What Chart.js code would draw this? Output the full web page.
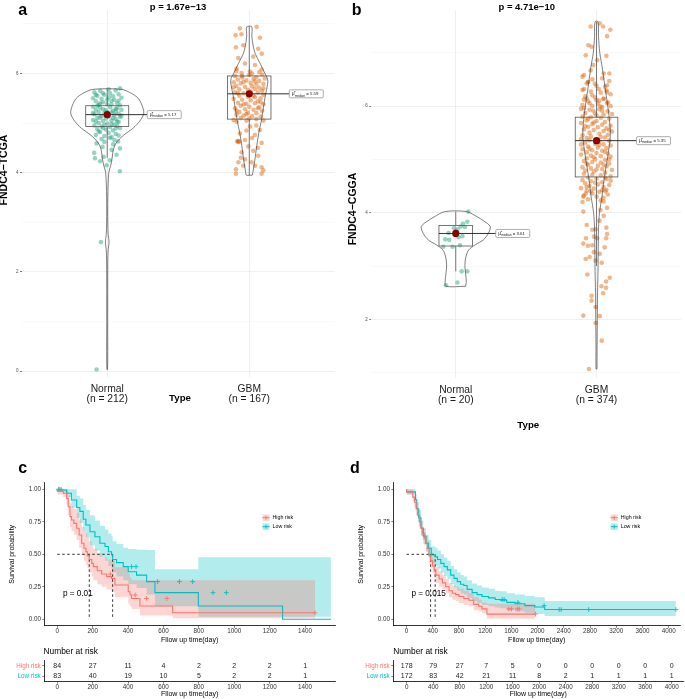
<!DOCTYPE html>
<html><head><meta charset="utf-8">
<script src="https://cdn.jsdelivr.net/npm/chart.js@4.4.1/dist/chart.umd.min.js"></script>
<style>
html,body{margin:0;padding:0;background:#fff;}
#fig{position:relative;width:685px;height:699px;overflow:hidden;background:#fff;}
canvas{position:absolute;}
</style></head><body>
<div id="fig">
<canvas id="cA" width="340" height="420" style="left:0;top:0"></canvas>
<canvas id="cB" width="345" height="432" style="left:340px;top:0"></canvas>
<canvas id="cC" width="340" height="190" style="left:0;top:455px"></canvas>
<canvas id="cD" width="345" height="190" style="left:340px;top:455px"></canvas>
<canvas id="rC" width="340" height="54" style="left:0;top:645px"></canvas>
<canvas id="rD" width="345" height="54" style="left:340px;top:645px"></canvas>
</div>
<script>
// ================= DATA =================
// ---- panel a (TCGA) ----
const catsA = [['Normal','(n = 212)'],['GBM','(n = 167)']];
const pTitleA = 'p = 1.67e−13';
const yTitleA = 'FNDC4−TCGA';
const yTicksA = [0,1,2,3,4,5,6,7];
const aNormalPts = [[-0.09,5.62],[-0.05,5.65],[0.02,5.6],[0.06,5.66],[0.09,5.7],[-0.07,5.55],[-0.02,5.57],[0.04,5.54],[0.08,5.58],[-0.1,5.5],[-0.04,5.49],[0.01,5.52],[0.05,5.47],[0.1,5.51],[-0.08,5.44],[-0.03,5.42],[0.03,5.45],[0.07,5.4],[-0.06,5.37],[0,5.38],[0.09,5.36],[-0.1,5.33],[-0.05,5.31],[0.02,5.32],[0.06,5.29],[-0.08,5.27],[-0.01,5.26],[0.04,5.25],[0.1,5.27],[-0.06,5.22],[-0.02,5.2],[0.03,5.21],[0.08,5.19],[-0.09,5.18],[0.05,5.16],[-0.04,5.14],[0.01,5.13],[0.09,5.12],[-0.07,5.1],[-0.01,5.09],[0.06,5.08],[-0.1,5.06],[-0.03,5.04],[0.03,5.05],[0.08,5.02],[-0.06,5.0],[0,4.99],[0.05,4.97],[-0.09,4.95],[-0.04,4.93],[0.02,4.92],[0.07,4.94],[-0.07,4.88],[-0.01,4.87],[0.04,4.85],[0.09,4.9],[-0.05,4.82],[0.01,4.8],[0.06,4.78],[-0.08,4.76],[-0.02,4.74],[0.03,4.72],[0.08,4.75],[-0.04,4.68],[0.05,4.66],[-0.03,5.6],[0.0,5.47],[-0.07,5.35],[0.07,5.3],[-0.03,5.28],[0.0,5.22],[-0.05,5.11],[0.04,5.1],[0.07,5.03],[-0.08,5.03],[0.03,4.98],[-0.02,4.96],[0.1,5.15],[-0.1,5.2],[0.06,5.23],[-0.05,5.4],[0.03,5.38],[0.08,5.45],[-0.08,5.57],[0.01,5.68],[-0.03,4.9],[0.06,4.89],[-0.06,4.83],[0.02,4.7],[-0.02,4.62],
 [-0.075,0.03],[-0.044,2.6],[0.089,4.03],[-0.092,4.40],[-0.05,4.23],[-0.086,4.29],[-0.025,4.32],[0.031,4.46],[0.066,4.36],[0.09,4.49],[0.077,4.63],[-0.004,4.15],[0.019,4.25],[-0.033,4.52],[-0.075,4.59],[0.042,4.57]];
const aGbmPts = [[-0.066,6.91],[0.052,6.94],[-0.096,6.77],[-0.055,6.79],[0.075,6.72],[-0.094,6.53],[-0.042,6.57],[0.063,6.5],[0.088,6.4],[0.028,6.34],[-0.077,6.31],[-0.03,6.2],[0.04,6.17],[-0.089,6.1],[0.087,6.08],[0.005,6.04],[-0.054,6.01],
 [-0.1,5.95],[-0.05,5.92],[0.0,5.97],[0.05,5.93],[0.09,5.98],[-0.08,5.88],[-0.02,5.86],[0.03,5.89],[0.07,5.85],[0.11,5.9],[-0.11,5.82],[-0.06,5.8],[0.01,5.81],[0.05,5.78],[0.1,5.79],[-0.09,5.75],[-0.03,5.73],[0.02,5.74],[0.07,5.71],[-0.07,5.68],[-0.01,5.67],[0.04,5.69],[0.09,5.65],[-0.1,5.62],[-0.04,5.6],[0.06,5.62],[0.1,5.57],[-0.07,5.55],[-0.01,5.53],[0.03,5.55],[0.08,5.5],[-0.11,5.49],[-0.05,5.47],[0.01,5.46],[0.06,5.44],[-0.08,5.41],[-0.02,5.39],[0.04,5.4],[0.1,5.38],[-0.06,5.35],[0.0,5.33],[0.07,5.32],[-0.1,5.3],[-0.03,5.28],[0.03,5.27],[0.09,5.25],[-0.07,5.22],[-0.01,5.21],[0.05,5.2],[-0.09,5.17],[-0.04,5.15],[0.02,5.14],[0.08,5.13],[-0.06,5.1],[0.0,5.09],[0.05,5.08],[-0.02,5.05],[0.1,5.05],[-0.11,5.06],[-0.04,5.83],[0.04,5.84],[-0.08,5.6],[0.01,5.64],[0.04,5.52],[-0.04,5.38],[0.08,5.42],[-0.09,5.25],[0.06,5.3],[-0.05,5.95],[0.02,6.0],[-0.09,6.05],[0.07,6.03],[-0.02,5.18],[0.1,5.7],[-0.11,5.72],
 [-0.089,5.03],[0.005,4.93],[0.075,4.86],[-0.066,4.79],[0.04,4.76],[-0.03,4.66],[-0.085,4.63],[-0.07,4.63],[0.087,4.6],[-0.007,4.53],[0.028,4.44],[-0.054,4.41],[0.063,4.34],[-0.03,4.27],[-0.077,4.21],[0.016,4.21],[-0.042,4.14],[-0.094,4.07],[0.04,4.14],[0.087,4.11],[0.099,4.05],[-0.094,3.98],[0.087,3.98],[-0.08,4.64],[-0.075,4.62],[0.05,4.95],[-0.02,4.85],[0.02,4.7],[0.06,4.5],[-0.06,4.3]];
const aViolinNormalY = [0.03,0.2,1.0,2.2,2.45,2.6,2.75,3.0,3.5,4.0,4.15,4.3,4.45,4.6,4.75,4.9,5.05,5.2,5.35,5.5,5.6,5.68];
const aViolinNormalW = [0.002,0.0035,0.0035,0.004,0.007,0.013,0.007,0.004,0.004,0.011,0.025,0.035,0.042,0.063,0.113,0.183,0.232,0.257,0.246,0.218,0.17,0.1];
const aViolinGbmY = [3.95,4.0,4.25,4.55,4.8,5.05,5.3,5.55,5.8,5.9,6.0,6.2,6.4,6.55,6.75,6.94];
const aViolinGbmW = [0.021,0.025,0.039,0.053,0.067,0.085,0.099,0.113,0.13,0.128,0.11,0.077,0.042,0.028,0.018,0.018];
const aQ1 = [4.93,5.08], aMed = [5.17,5.59], aQ3 = [5.35,5.95], aWLo = [4.3,3.95], aWHi = [5.68,6.95];

// ---- panel b (CGGA) ----
const catsB = [['Normal','(n = 20)'],['GBM','(n = 374)']];
const pTitleB = 'p = 4.71e−10';
const yTitleB = 'FNDC4−CGGA';
const yTicksB = [1,2,3,4,5,6,7];
const bNormalPts = [[0.089,4.02],[0.082,3.83],[0.051,3.79],[0.065,3.73],[0.035,3.74],[0.012,3.69],[-0.012,3.71],[0.047,3.56],[0.019,3.54],[-0.051,3.62],[-0.075,3.5],[-0.089,3.36],[-0.023,3.36],[0.03,3.39],[0.042,2.9],[0.082,2.9],[0.012,2.69],[-0.07,2.64],[-0.047,3.49],[0,3.65]];
const bGbmPts = [[-0.042,7.49],[0.047,7.49],[0.023,7.55],[0.098,7.43],[0.075,7.31],[-0.058,7.14],[-0.035,7.11],[0.07,6.94],[0.005,6.86],[-0.077,6.95],[-0.023,6.77],[-0.042,6.67],[-0.089,6.58],[0.051,6.61],[0.091,6.61],[-0.061,6.45],[0.075,6.39],[-0.012,6.42],[-0.089,6.32],[0.016,6.32],[0.075,6.26],[-0.03,6.2],[-0.07,6.14],[0.051,6.14],[0,6.11],[-0.049,6.05],[0.075,6.05],[-0.089,5.96],[0.028,5.99],[-0.023,5.91],
 [-0.1,6.55],[-0.03,6.5],[0.04,6.52],[0.09,6.47],[-0.07,6.42],[0.0,6.38],[0.06,6.36],[-0.1,6.3],[-0.04,6.27],[0.03,6.25],[0.1,6.22],[-0.08,6.18],[-0.01,6.16],[0.05,6.13],[-0.06,6.09],[0.08,6.07],[0.01,6.04],[-0.1,6.02],[-0.03,6.0],[0.04,5.98],[0.1,6.0],[-0.06,6.45],[0.07,6.29],[-0.09,6.12],[0.02,6.1],
 [-0.11,5.95],[-0.05,5.93],[0.02,5.94],[0.08,5.9],[-0.08,5.87],[-0.01,5.86],[0.05,5.84],[0.11,5.85],[-0.1,5.8],[-0.04,5.79],[0.03,5.78],[0.09,5.76],[-0.07,5.73],[0.0,5.72],[0.06,5.7],[-0.11,5.68],[-0.03,5.66],[0.04,5.65],[0.1,5.63],[-0.06,5.61],[0.01,5.6],[0.07,5.58],[-0.09,5.56],[-0.02,5.55],[0.05,5.53],[0.11,5.52],[-0.05,5.5],[0.02,5.48],[0.08,5.46],[-0.1,5.45],[-0.04,5.43],[0.03,5.42],[-0.07,5.4],[0.06,5.41],[0.0,5.82],[-0.02,5.69],[0.09,5.55],[-0.08,5.62],[0.04,5.91],[-0.06,5.76],
 [-0.11,5.38],[-0.05,5.36],[0.02,5.33],[0.09,5.35],[-0.08,5.31],[-0.01,5.29],[0.05,5.28],[0.1,5.26],[-0.06,5.24],[0.01,5.22],[0.07,5.21],[-0.1,5.19],[-0.03,5.17],[0.04,5.16],[-0.07,5.13],[0.0,5.12],[0.08,5.11],[-0.11,5.09],[-0.04,5.07],[0.03,5.06],[0.1,5.05],[-0.07,5.02],[-0.01,5.0],[0.06,4.99],[-0.09,4.97],[-0.03,4.95],[0.03,4.94],[0.09,4.92],[-0.06,4.9],[0.01,4.88],[0.07,4.87],[-0.1,4.85],[-0.04,4.83],[0.04,4.82],[0.11,4.8],[-0.08,4.79],[0.02,5.27],[-0.05,5.2],[0.06,5.14],[-0.02,5.04],[0.09,5.0],[-0.07,4.92],[0.05,4.9],[0.0,4.81],[-0.11,5.28],
 [-0.02,4.77],[0.06,4.75],[-0.09,4.73],[-0.03,4.71],[0.03,4.7],[0.1,4.68],[-0.06,4.66],[0.0,4.64],[0.07,4.63],[-0.1,4.61],[-0.04,4.59],[0.04,4.57],[-0.08,4.55],[0.01,4.53],[0.09,4.52],[-0.05,4.5],[0.05,4.48],[-0.11,4.46],[-0.02,4.45],[0.07,4.43],[-0.07,4.41],[0.02,4.39],[-0.03,4.36],[0.08,4.34],[-0.09,4.32],[0.0,4.3],[0.05,4.28],[-0.06,4.25],[0.03,4.23],[-0.1,4.2],[0.1,4.6],[-0.01,4.56],[0.06,4.66],[-0.07,4.48],[0.04,4.42],
 [-0.094,4.30],[-0.077,4.36],[-0.042,4.40],[0.063,4.40],[0.051,4.21],[0.075,4.09],[0.028,4.05],[-0.094,4.02],[0.051,3.94],[0.021,3.85],[-0.07,3.77],[-0.03,3.68],[-0.007,3.69],[0.07,3.72],[0.075,3.6],[-0.075,3.52],[0.005,3.52],[0.068,3.52],[-0.019,3.55],[-0.094,3.42],[-0.061,3.38],[-0.03,3.39],[0.058,3.35],[-0.019,3.26],[0.023,3.23],[-0.077,3.13],[-0.049,3.17],[0.037,3.06],[-0.007,3.1],[-0.065,2.84],[0.094,2.78],[0.068,2.71],[0.035,2.62],[0.068,2.59],[0.047,2.49],[-0.035,2.44],[-0.035,2.35],[-0.007,2.23],[-0.094,2.07],[0.023,2.06],[-0.007,1.93],[0.037,1.6],[-0.054,1.07]];
const bViolinNormalY = [2.62,2.72,2.85,3.0,3.15,3.3,3.4,3.49,3.61,3.74,3.85,3.92,4.02];
const bViolinNormalW = [0.07,0.075,0.07,0.065,0.07,0.091,0.14,0.196,0.231,0.245,0.196,0.154,0.077];
const bViolinGbmY = [1.07,1.5,2.0,2.5,2.9,3.3,3.7,4.0,4.3,4.6,4.9,5.2,5.45,5.75,6.05,6.35,6.7,7.0,7.3,7.58];
const bViolinGbmW = [0.0035,0.004,0.0056,0.007,0.0105,0.012,0.014,0.021,0.0386,0.0526,0.07,0.0877,0.098,0.091,0.077,0.06,0.042,0.023,0.014,0.0105];
const bQ1 = [3.375,4.67], bMed = [3.61,5.35], bQ3 = [3.76,5.79], bWLo = [2.9,3.0], bWHi = [4.02,7.58];

// ---- survival (shared) ----
const seriesNames = ['High risk','Low risk'];
const survTicks = [0,0.25,0.5,0.75,1];
// ---- panel c ----
const kmTicksC = [0,200,400,600,800,1000,1200,1400];
const highC_t  = [0,34,53,62,72,81,94,110,124,138,151,162,170,181,195,204,226,251,279,307,326,401,411,420,467,652,1273,1456];
const highC_s  = [1,0.985,0.97,0.93,0.866,0.79,0.764,0.738,0.70,0.648,0.585,0.546,0.52,0.49,0.46,0.43,0.405,0.374,0.348,0.328,0.315,0.264,0.212,0.187,0.16,0.102,0.05,0.05];
const highC_up = [1,1,1,1,0.95,0.89,0.87,0.85,0.82,0.77,0.71,0.68,0.66,0.63,0.60,0.57,0.54,0.51,0.48,0.46,0.45,0.40,0.35,0.32,0.30,0.30,0.30,0.30];
const highC_lo = [1,0.96,0.94,0.88,0.80,0.71,0.68,0.65,0.61,0.55,0.49,0.45,0.42,0.39,0.36,0.33,0.30,0.27,0.25,0.23,0.21,0.17,0.12,0.10,0.08,0.03,0.008,0.008];
const lowC_t  = [0,53,80,110,128,147,162,185,213,241,270,289,307,313,335,373,401,448,505,552,797,1273,1546];
const lowC_s  = [1,0.995,0.97,0.918,0.86,0.83,0.77,0.725,0.674,0.635,0.585,0.56,0.52,0.495,0.46,0.436,0.405,0.366,0.34,0.29,0.205,0.102,0];
const lowC_up = [1,1,1,1,0.95,0.93,0.88,0.84,0.80,0.76,0.72,0.69,0.66,0.64,0.60,0.58,0.55,0.54,0.535,0.533,0.385,0.477,0.477];
const lowC_lo = [1,0.98,0.94,0.86,0.78,0.74,0.68,0.63,0.57,0.53,0.48,0.45,0.41,0.39,0.36,0.33,0.30,0.27,0.24,0.19,0.10,0.02,0.02];
const censHighC = [12,300,440,505,620,1456];
const censLowC  = [8,22,420,445,567,690,765,880,955];
const pTextC = 'p = 0.01';
const riskTimesC = [0,200,400,600,800,1000,1200,1400];
const riskHighC = [84,27,11,4,2,2,2,1];
const riskLowC  = [83,40,19,10,5,2,2,1];
// ---- panel d ----
const kmTicksD = [0,400,800,1200,1600,2000,2400,2800,3200,3600,4000];
const highD_t  = [0,95,121,146,171,196,221,246,271,297,322,345,367,397,422,447,498,548,598,649,699,749,800,875,951,1026,1102,1152,1227,1866,1967];
const highD_s  = [1,0.98,0.94,0.90,0.85,0.80,0.75,0.70,0.66,0.62,0.585,0.545,0.49,0.45,0.41,0.38,0.34,0.31,0.28,0.25,0.22,0.20,0.19,0.175,0.16,0.146,0.115,0.10,0.08,0.04,0.04];
const highD_up = [1,1,0.97,0.94,0.90,0.85,0.80,0.75,0.71,0.67,0.64,0.60,0.55,0.51,0.47,0.44,0.40,0.37,0.34,0.31,0.28,0.26,0.25,0.235,0.22,0.20,0.17,0.15,0.13,0.12,0.12];
const highD_lo = [1,0.96,0.91,0.86,0.80,0.75,0.70,0.65,0.61,0.57,0.53,0.49,0.43,0.39,0.35,0.32,0.28,0.25,0.23,0.20,0.17,0.15,0.14,0.125,0.11,0.10,0.07,0.06,0.045,0.005,0.005];
const lowD_t  = [0,136,156,186,221,256,297,337,377,437,473,523,573,623,674,724,774,825,875,925,1001,1076,1152,1252,1353,1429,1529,1655,1806,1957,2108,2233,4110];
const lowD_s  = [1,0.98,0.92,0.85,0.78,0.70,0.64,0.585,0.546,0.495,0.48,0.46,0.43,0.405,0.38,0.34,0.315,0.29,0.27,0.26,0.23,0.205,0.19,0.175,0.165,0.152,0.146,0.13,0.12,0.105,0.095,0.075,0.075];
const lowD_up = [1,1,0.96,0.90,0.84,0.76,0.70,0.65,0.61,0.56,0.55,0.53,0.50,0.475,0.45,0.41,0.385,0.36,0.34,0.33,0.30,0.275,0.26,0.245,0.235,0.22,0.215,0.2,0.19,0.18,0.17,0.14,0.14];
const lowD_lo = [1,0.96,0.88,0.80,0.72,0.64,0.58,0.52,0.48,0.43,0.41,0.39,0.36,0.335,0.31,0.27,0.245,0.22,0.20,0.19,0.165,0.14,0.125,0.11,0.10,0.09,0.085,0.07,0.06,0.05,0.04,0.025,0.025];
const censHighD = [1560,1600,1690,1720,1967];
const censLowD  = [1460,1490,1700,2100,2330,2360,2780,4110];
const pTextD = 'p = 0.015';
const riskTimesD = [0,400,800,1200,1600,2000,2400,2800,3200,3600,4000];
const riskHighD = [178,79,27,7,5,0,0,0,0,0,0];
const riskLowD  = [172,83,42,21,11,8,2,1,1,1,1];

// ================= STYLE / HELPERS =================
const FONT = '"Liberation Sans", Arial, Helvetica, sans-serif';
Chart.defaults.font.family = FONT;
Chart.defaults.color = '#333';
const RED = '#F8766D', TEAL = '#00BFC4';
const RED_BAND = 'rgba(248,118,109,0.30)', TEAL_BAND = 'rgba(0,191,196,0.30)';
const PT_TEAL = 'rgba(27,158,119,0.45)', PT_ORANGE = 'rgba(217,95,2,0.45)';

function textPlugin(items){
  return {id:'txt', afterDraw(chart){
    const c = chart.ctx;
    items.forEach(it=>{
      c.save(); c.font = it.f; c.fillStyle = it.c || '#000';
      c.textAlign = it.a || 'center'; c.textBaseline = it.b || 'alphabetic';
      c.translate(it.x, it.y); if (it.r) c.rotate(it.r);
      c.fillText(it.t, 0, 0); c.restore();
    });
  }};
}
function violinPoly(c, ys, ws){
  const r = [];
  for (let i=0;i<ys.length;i++) r.push({x:c+ws[i], y:ys[i]});
  for (let i=ys.length-1;i>=0;i--) r.push({x:c-ws[i], y:ys[i]});
  r.push(r[0]);
  return r;
}
function boxPlugin(g){
  return {id:'boxes', afterDatasetDraw(chart, args){
    if (args.index !== 1) return;
    const ctx = chart.ctx, xs = chart.scales.x, ys = chart.scales.y;
    for (let i=0;i<g.med.length;i++){
      const cx = xs.getPixelForValue(i+1), hw = g.halfW[i];
      const y1 = ys.getPixelForValue(g.q1[i]), y3 = ys.getPixelForValue(g.q3[i]);
      const ym = ys.getPixelForValue(g.med[i]);
      const yl = ys.getPixelForValue(g.lo[i]), yh = ys.getPixelForValue(g.hi[i]);
      ctx.save();
      ctx.strokeStyle = '#555'; ctx.lineWidth = 0.8;
      ctx.strokeRect(cx-hw, y3, 2*hw, y1-y3);
      ctx.beginPath(); ctx.moveTo(cx,y3); ctx.lineTo(cx,yh); ctx.moveTo(cx,y1); ctx.lineTo(cx,yl); ctx.stroke();
      const lx = cx + 40, lw = 34, lh = 8;
      ctx.strokeStyle = '#1a1a1a'; ctx.lineWidth = 0.9;
      ctx.beginPath(); ctx.moveTo(cx-hw, ym); ctx.lineTo(lx, ym); ctx.stroke();
      // label box
      ctx.fillStyle = '#fff'; ctx.strokeStyle = '#777'; ctx.lineWidth = 0.6;
      ctx.beginPath(); ctx.roundRect(lx, ym-lh/2, lw, lh, 1.2); ctx.fill(); ctx.stroke();
      ctx.fillStyle = '#222'; ctx.textBaseline = 'alphabetic'; ctx.textAlign = 'left';
      let x = lx + 2.5; const base = ym + 1.6;
      ctx.font = '5px ' + FONT; ctx.fillText('μ̂', x, base); x += ctx.measureText('μ').width;
      ctx.font = '3.2px ' + FONT; ctx.fillText('median', x, base + 1.2); x += ctx.measureText('median').width;
      ctx.font = '4.3px ' + FONT; ctx.fillText(' = ' + g.med[i].toFixed(2), x, base);
      ctx.restore();
    }
  }};
}
function violinChart(id, o){
  const ds = [
    {data: o.med.map((m,i)=>({x:i+1, y:m})), pointRadius:3.6, backgroundColor:'#8B0000', borderWidth:0, showLine:false},
    {data: violinPoly(1, o.v1y, o.v1w), showLine:true, pointRadius:0, borderColor:'#2b2b2b', borderWidth:0.6, tension:0.3, fill:false},
    {data: violinPoly(2, o.v2y, o.v2w), showLine:true, pointRadius:0, borderColor:'#2b2b2b', borderWidth:0.6, tension:0.3, fill:false},
    {data: o.p1.map(p=>({x:1+p[0], y:p[1]})), pointRadius:2.3, backgroundColor:PT_TEAL, borderWidth:0},
    {data: o.p2.map(p=>({x:2+p[0], y:p[1]})), pointRadius:2.3, backgroundColor:PT_ORANGE, borderWidth:0}
  ];
  return new Chart(document.getElementById(id), {
    type:'scatter',
    data:{datasets:ds},
    options:{
      responsive:false, animation:false, events:[], devicePixelRatio:1,
      layout:{padding:{left:0, top:o.area.top, right:o.W-o.area.right, bottom:0}},
      plugins:{legend:{display:false}, tooltip:{enabled:false}},
      scales:{
        x:{type:'linear', min:0.4, max:2.6,
          afterBuildTicks:s=>{s.ticks=[{value:1},{value:2}];},
          ticks:{callback:(v,i)=>o.cats[i], font:{size:10.3, lineHeight:1}, color:'#1a1a1a', padding:6.9, maxRotation:0, autoSkip:false},
          grid:{color:'#ebebeb', lineWidth:0.8, drawTicks:false},
          border:{display:false},
          afterFit:s=>{s.height=o.H-o.area.bottom; s.paddingLeft=0; s.paddingRight=0;}},
        y:{type:'linear', min:o.yMin, max:o.yMax,
          afterBuildTicks:s=>{s.ticks=o.yTicks.map(v=>({value:v}));},
          ticks:{callback:v=>(v%2===0?String(v):''), font:{size:4.5}, color:'#4d4d4d', padding:1.6},
          grid:{color:c=>(c.tick && c.tick.value%2===0?'#ebebeb':'#f3f3f3'),
                lineWidth:c=>(c.tick && c.tick.value%2===0?0.8:0.5),
                tickLength:2, tickColor:c=>(c.tick && c.tick.value%2===0?'#555':'rgba(0,0,0,0)')},
          border:{display:false},
          afterFit:s=>{s.width=o.area.left; s.paddingTop=0; s.paddingBottom=0;}}
      }
    },
    plugins:[boxPlugin({q1:o.q1, med:o.med, q3:o.q3, lo:o.lo, hi:o.hi, halfW:o.halfW}), textPlugin(o.texts)]
  });
}

function stepAt(ts, ss, t){ let v = ss[0]; for (let i=0;i<ts.length;i++){ if (ts[i] <= t) v = ss[i]; } return v; }
function medianOf(ts, ss){ for (let i=0;i<ts.length;i++){ if (ss[i] <= 0.5) return ts[i]; } return null; }
const P = (t,s)=>t.map((v,i)=>({x:v, y:s[i]}));

function kmChart(id, o){
  const mH = medianOf(o.hT, o.hS), mL = medianOf(o.lT, o.lS), mMax = Math.max(mH, mL);
  const line = (data, col)=>({data, borderColor:col, borderWidth:1.1, stepped:'after', pointRadius:0, fill:false});
  const dash = data=>({data, borderColor:'#000', borderWidth:0.8, borderDash:[2.5,2.5], pointRadius:0, fill:false});
  const band = (data, fillCol)=>({data, borderColor:'rgba(0,0,0,0)', borderWidth:0, stepped:'after', pointRadius:0, fill: fillCol ? '-1' : false, backgroundColor: fillCol || 'rgba(0,0,0,0)'});
  const ds = [
    line(P(o.hT,o.hS), RED),
    line(P(o.lT,o.lS), TEAL),
    {data:o.cH.map(t=>({x:t, y:stepAt(o.hT,o.hS,t)})), showLine:false, pointStyle:'cross', pointRadius:2.4, borderColor:RED, borderWidth:0.9},
    {data:o.cL.map(t=>({x:t, y:stepAt(o.lT,o.lS,t)})), showLine:false, pointStyle:'cross', pointRadius:2.4, borderColor:TEAL, borderWidth:0.9},
    dash([{x:0,y:0.5},{x:mMax,y:0.5}]),
    dash([{x:mH,y:0.5},{x:mH,y:0}]),
    dash([{x:mL,y:0.5},{x:mL,y:0}]),
    band(P(o.hT,o.hU), null),
    band(P(o.hT,o.hL), RED_BAND),
    band(P(o.lT,o.lU), null),
    band(P(o.lT,o.lL), TEAL_BAND)
  ];
  const legend = {id:'kmleg', afterDraw(chart){
    const c = chart.ctx;
    [[seriesNames[0], RED, RED_BAND],[seriesNames[1], TEAL, TEAL_BAND]].forEach((it,i)=>{
      const y = o.legY + i*9, x = o.legX;
      c.save();
      c.fillStyle = it[2]; c.fillRect(x, y-3.2, 7, 6.4);
      c.strokeStyle = it[1]; c.lineWidth = 1;
      c.beginPath(); c.moveTo(x, y); c.lineTo(x+7, y); c.moveTo(x+3.5, y-2); c.lineTo(x+3.5, y+2); c.stroke();
      c.fillStyle = '#000'; c.font = '5.3px ' + FONT; c.textAlign = 'left'; c.textBaseline = 'middle';
      c.fillText(it[0], x+10, y);
      c.restore();
    });
    // p-value, placed in data space
    c.save(); c.font = '8.2px ' + FONT; c.fillStyle = '#000'; c.textAlign = 'left'; c.textBaseline = 'middle';
    c.fillText(o.pText, chart.scales.x.getPixelForValue(o.pT), chart.scales.y.getPixelForValue(0.195));
    c.restore();
  }};
  return new Chart(document.getElementById(id), {
    type:'line',
    data:{datasets:ds},
    options:{
      responsive:false, animation:false, events:[], devicePixelRatio:1,
      layout:{padding:{left:0, top:o.area.top, right:o.W-o.area.right, bottom:0}},
      plugins:{legend:{display:false}, tooltip:{enabled:false}},
      scales:{
        x:{type:'linear', min:o.xMin, max:o.xMax,
          afterBuildTicks:s=>{s.ticks=o.xTicks.map(v=>({value:v}));},
          ticks:{callback:v=>String(v), font:{size:6.3, lineHeight:1}, color:'#333', padding:0, maxRotation:0, autoSkip:false},
          grid:{drawOnChartArea:false, tickLength:2, tickColor:'#333', lineWidth:0.6},
          border:{display:true, color:'#000', width:0.8},
          title:{display:true, text:'Fllow up time(day)', font:{size:7}, color:'#000', padding:{top:0, bottom:0.8}},
          afterFit:s=>{s.height=o.H-o.area.bottom; s.paddingLeft=0; s.paddingRight=0;}},
        y:{type:'linear', min:-0.05, max:1.05,
          afterBuildTicks:s=>{s.ticks=survTicks.map(v=>({value:v}));},
          ticks:{callback:v=>v.toFixed(2), font:{size:6.3}, color:'#333', padding:1.3},
          grid:{drawOnChartArea:false, tickLength:2, tickColor:'#333', lineWidth:0.6},
          border:{display:true, color:'#000', width:0.8},
          title:{display:true, text:'Survival probability', font:{size:7}, color:'#000', padding:{top:o.yTitlePad, bottom:0}},
          afterFit:s=>{s.width=o.area.left; s.paddingTop=0; s.paddingBottom=0;}}
      }
    },
    plugins:[legend, textPlugin(o.texts)]
  });
}

function riskChart(id, o){
  const ds = [
    {data:o.times.map(t=>({x:t, y:seriesNames[0]})), counts:o.high, pointRadius:0},
    {data:o.times.map(t=>({x:t, y:seriesNames[1]})), counts:o.low, pointRadius:0}
  ];
  const numbers = {id:'riskNums', afterDatasetsDraw(chart){
    const c = chart.ctx;
    chart.data.datasets.forEach((d,i)=>{
      chart.getDatasetMeta(i).data.forEach((el,j)=>{
        c.save(); c.font = '7px ' + FONT; c.fillStyle = '#222'; c.textAlign = 'center'; c.textBaseline = 'middle';
        c.fillText(String(d.counts[j]), el.x, el.y); c.restore();
      });
    });
  }};
  return new Chart(document.getElementById(id), {
    type:'scatter',
    data:{datasets:ds},
    options:{
      responsive:false, animation:false, events:[], devicePixelRatio:1,
      layout:{padding:{left:0, top:o.area.top, right:o.W-o.area.right, bottom:0}},
      plugins:{legend:{display:false}, tooltip:{enabled:false}},
      scales:{
        x:{type:'linear', min:o.xMin, max:o.xMax,
          afterBuildTicks:s=>{s.ticks=o.xTicks.map(v=>({value:v}));},
          ticks:{callback:v=>String(v), font:{size:6.3, lineHeight:1}, color:'#333', padding:0, maxRotation:0, autoSkip:false},
          grid:{drawOnChartArea:false, tickLength:2, tickColor:'#333', lineWidth:0.6},
          border:{display:true, color:'#000', width:0.8},
          title:{display:true, text:'Fllow up time(day)', font:{size:7}, color:'#000', padding:{top:0, bottom:0.8}},
          afterFit:s=>{s.height=o.H-o.area.bottom; s.paddingLeft=0; s.paddingRight=0;}},
        y:{type:'category', labels:seriesNames, offset:true,
          ticks:{font:{size:6.3}, color:c=>(c.index===0?RED:TEAL), padding:1.6},
          grid:{drawOnChartArea:false, tickLength:2, tickColor:'#333', lineWidth:0.6},
          border:{display:true, color:'#000', width:0.8},
          afterFit:s=>{s.width=o.area.left; s.paddingTop=0; s.paddingBottom=0;}}
      }
    },
    plugins:[numbers, textPlugin(o.texts)]
  });
}

// ================= BUILD =================
violinChart('cA', {W:340, H:420, area:{left:22, right:334.5, top:10, bottom:377}, yMin:-0.12, yMax:7.28, yTicks:yTicksA, cats:catsA,
  p1:aNormalPts, p2:aGbmPts, v1y:aViolinNormalY, v1w:aViolinNormalW, v2y:aViolinGbmY, v2w:aViolinGbmW,
  q1:aQ1, med:aMed, q3:aQ3, lo:aWLo, hi:aWHi, halfW:[21.5,21.7],
  texts:[
    {t:'a', x:18.3, y:15.3, f:'bold 16px '+FONT, a:'left'},
    {t:pTitleA, x:178, y:10.2, f:'bold 9.5px '+FONT},
    {t:yTitleA, x:4.5, y:170, f:'bold 10.5px '+FONT, b:'middle', r:-Math.PI/2},
    {t:'Type', x:180, y:400.5, f:'bold 9.7px '+FONT}
  ]});
violinChart('cB', {W:345, H:432, area:{left:31.3, right:345, top:10, bottom:378}, yMin:0.9, yMax:7.8, yTicks:yTicksB, cats:catsB,
  p1:bNormalPts, p2:bGbmPts, v1y:bViolinNormalY, v1w:bViolinNormalW, v2y:bViolinGbmY, v2w:bViolinGbmW,
  q1:bQ1, med:bMed, q3:bQ3, lo:bWLo, hi:bWHi, halfW:[16.8,21.3],
  texts:[
    {t:'b', x:11.7, y:15.3, f:'bold 16px '+FONT, a:'left'},
    {t:pTitleB, x:186.7, y:10.2, f:'bold 9.5px '+FONT},
    {t:yTitleB, x:13.3, y:209, f:'bold 10.5px '+FONT, b:'middle', r:-Math.PI/2},
    {t:'Type', x:188.3, y:428.3, f:'bold 9.7px '+FONT}
  ]});
kmChart('cC', {W:340, H:190, area:{left:44.3, right:335, top:27.8, bottom:170.8}, xMin:-73, xMax:1569, xTicks:kmTicksC,
  hT:highC_t, hS:highC_s, hU:highC_up, hL:highC_lo, lT:lowC_t, lS:lowC_s, lU:lowC_up, lL:lowC_lo,
  cH:censHighC, cL:censLowC, pText:pTextC, pT:32, legX:262.5, legY:62.7, yTitlePad:8,
  texts:[{t:'c', x:18.3, y:17.7, f:'bold 16px '+FONT, a:'left'}]});
kmChart('cD', {W:345, H:190, area:{left:53.3, right:343.3, top:27.8, bottom:170.8}, xMin:-202, xMax:4175, xTicks:kmTicksD,
  hT:highD_t, hS:highD_s, hU:highD_up, hL:highD_lo, lT:lowD_t, lS:lowD_s, lU:lowD_up, lL:lowD_lo,
  cH:censHighD, cL:censLowD, pText:pTextD, pT:75, legX:270.7, legY:62.7, yTitlePad:16.8,
  texts:[{t:'d', x:10, y:17.7, f:'bold 16px '+FONT, a:'left'}]});
riskChart('rC', {W:340, H:54, area:{left:44.3, right:335, top:15.5, bottom:36.7}, xMin:-73, xMax:1569, xTicks:kmTicksC,
  times:riskTimesC, high:riskHighC, low:riskLowC,
  texts:[{t:'Number at risk', x:43.5, y:7, f:'8.4px '+FONT, a:'left', b:'middle'}]});
riskChart('rD', {W:345, H:54, area:{left:53.3, right:343.3, top:15.5, bottom:36.7}, xMin:-202, xMax:4175, xTicks:kmTicksD,
  times:riskTimesD, high:riskHighD, low:riskLowD,
  texts:[{t:'Number at risk', x:53.3, y:7, f:'8.4px '+FONT, a:'left', b:'middle'}]});
</script>
</body></html>
